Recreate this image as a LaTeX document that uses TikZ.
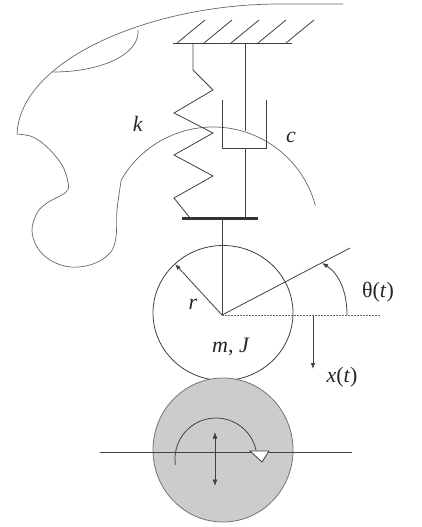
\documentclass[tikz,border=0pt]{standalone}
\usepackage{fontspec}
\setmainfont{Liberation Serif}
\usetikzlibrary{arrows.meta}
\begin{document}
\begin{tikzpicture}[x=1pt,y=-1pt,
  ln/.style={draw=black!75, line width=0.8pt},
  thin/.style={draw=black!60, line width=0.7pt},
  lbl/.style={font=\fontsize{22}{26}\selectfont, inner sep=0pt, text=black!85},
  tip/.style={-{Latex[length=6pt,width=4.5pt]}},
  dbltip/.style={{Latex[length=6.5pt,width=5pt]}-{Latex[length=6.5pt,width=5pt]}},
  dots/.style={draw=black!60, line width=0.7pt, dash pattern=on 1.5pt off 1.5pt}]
\useasboundingbox (0,0) rectangle (422,527);

% key points
\coordinate (G1) at (173,43);
\coordinate (G2) at (292,43);
\coordinate (C) at (222,315);
\coordinate (W) at (223,313);
\coordinate (D) at (223,450);

% outline of the body (top edge)
\draw[thin] (343,4) -- (280,4) .. controls (150,4) and (20,60) .. (17,134);
% inner lens
\draw[thin] (53,72) .. controls (100,72) and (140,55) .. (138,30);
% lobes and big arc
\draw[thin] plot[smooth, tension=0.6] coordinates {(17,134) (33,137) (48,148) (62,165) (68,182) (66,192) (47,203) (37,213) (32,230) (37,247) (50,260) (70,267) (93,264) (110,253) (116,237) (117,210) (121.2,180)}
  arc[start angle=-150, end angle=-15, radius=106];

% ground with hatching
\draw[ln] (G1) -- (G2);
\foreach \h in {177,204,231,258,286}
  \draw[ln] (\h,43) -- (\h+28,20);

% spring k
\draw[ln] (193,43) -- (193,70) -- (213,90) -- (174,113) -- (213,133) -- (174,155) -- (213,176) -- (174,198) -- (190,218);

% damper c
\draw[ln] (245,43) -- (245,131);
\draw[ln] (222,100) -- (222,148) -- (266,148) -- (266,100);
\draw[ln] (245,148) -- (245,218);

% plate
\coordinate (P) at (222,218);
\draw[draw=black!80, line width=3pt] (182,218) -- (258,218);

% wheel mass
\draw[ln] (P) -- (C);
\draw[ln] (W) ellipse[x radius=70, y radius=67.5];
\draw[ln, tip] (C) -- (175,264);
\draw[ln] (C) -- (350,248);
\draw[dots] (C) -- (380,315);
\draw[ln, tip] (347,315) .. controls (347,290) and (338,273) .. (322,263);
\draw[ln, tip] (313,316) -- (313,369);

% labels
\node[lbl] (k) at (138,124) {\textit{k}};
\node[lbl] (c) at (291,137) {\textit{c}};
\node[lbl] (r) at (193,304) {\textit{r}};
\node[lbl] (mJ) at (231,347) {\textit{m}, \textit{J}};
\node[lbl] (th) at (378,292) {θ(\textit{t})};
\node[lbl] (xt) at (342,377) {\textit{x}(\textit{t})};

% gray disk
\draw[draw=black!55, line width=0.8pt, fill=black!20] (D) ellipse[x radius=70, y radius=72];
\draw[ln] (100,452) -- (352,452);
\draw[ln] (216,459) ++(-188:41) arc[start angle=-188, end angle=-12, radius=41];
\draw[ln, fill=white] (250,451) -- (269,451) -- (262,462) -- cycle;
\draw[ln, dbltip] (215,432) -- (215,486);
\end{tikzpicture}
\end{document}
